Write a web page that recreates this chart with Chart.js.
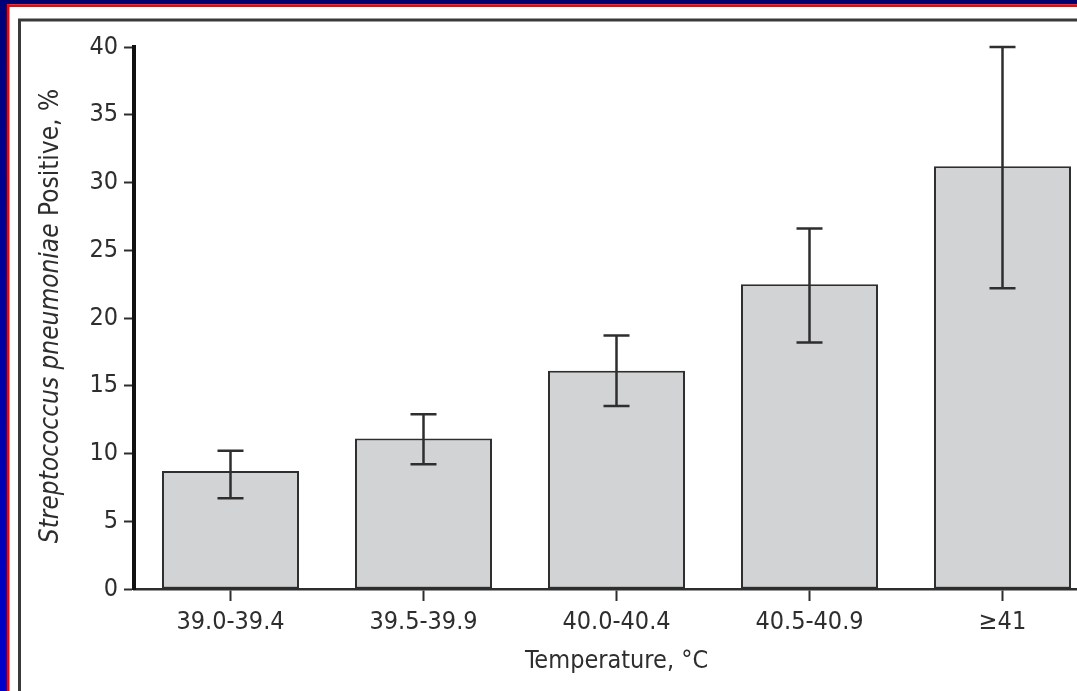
<!DOCTYPE html>
<html>
<head>
<meta charset="utf-8">
<script src="https://cdn.jsdelivr.net/npm/chart.js@4.4.1/dist/chart.umd.min.js"></script>
<style>
  html, body { margin: 0; padding: 0; width: 1077px; height: 691px; overflow: hidden; background: #fff; }
  canvas { display: block; }
</style>
</head>
<body>
<canvas id="c" width="1100" height="691" style="width:1100px;height:691px"></canvas>
<script>
const categories = ['39.0-39.4', '39.5-39.9', '40.0-40.4', '40.5-40.9', '\u226541'];
const percentPositive = [8.7, 11.1, 16.1, 22.5, 31.2];
const ciLower = [6.7, 9.2, 13.5, 18.2, 22.2];
const ciUpper = [10.2, 12.9, 18.7, 26.6, 40.0];
const yTicks = [0, 5, 10, 15, 20, 25, 30, 35, 40];

const FONT = "'Liberation Sans Narrow', 'Arial Narrow', 'DejaVu Sans Condensed', sans-serif";
const INK = '#2e2e2e';

const framePlugin = {
  id: 'frame',
  beforeDraw(chart) {
    const ctx = chart.ctx, W = chart.width, H = chart.height;
    ctx.save();
    ctx.fillStyle = '#ffffff';
    ctx.fillRect(0, 0, W, H);
    ctx.fillStyle = '#00006e';
    ctx.fillRect(0, 0, W, 4.5);
    const g = ctx.createLinearGradient(0, 0, 0, H);
    g.addColorStop(0, '#000078');
    g.addColorStop(1, '#0000cc');
    ctx.fillStyle = g;
    ctx.fillRect(0, 0, 7, H);
    ctx.fillStyle = '#ff0000';
    ctx.fillRect(7, 4.5, W, 2.5);
    ctx.fillRect(7, 4.5, 2.5, H);
    ctx.strokeStyle = '#3a3a3a';
    ctx.lineWidth = 3;
    ctx.beginPath();
    ctx.moveTo(19.5, H + 10);
    ctx.lineTo(19.5, 20);
    ctx.lineTo(W + 10, 20);
    ctx.stroke();
    ctx.restore();
  }
};

const errorBarPlugin = {
  id: 'errorBars',
  afterDatasetsDraw(chart) {
    const ctx = chart.ctx;
    const meta = chart.getDatasetMeta(0);
    const ys = chart.scales.y;
    ctx.save();
    ctx.strokeStyle = INK;
    ctx.lineCap = 'butt';
    meta.data.forEach((bar, i) => {
      const x = bar.x;
      const yl = ys.getPixelForValue(ciLower[i]);
      const yu = ys.getPixelForValue(ciUpper[i]);
      ctx.lineWidth = 2.5;
      ctx.beginPath();
      ctx.moveTo(x, yl);
      ctx.lineTo(x, yu);
      ctx.stroke();
      ctx.beginPath();
      ctx.moveTo(x - 13, yu);
      ctx.lineTo(x + 13, yu);
      ctx.moveTo(x - 13, yl);
      ctx.lineTo(x + 13, yl);
      ctx.stroke();
    });
    ctx.restore();
  }
};

const yTitlePlugin = {
  id: 'yTitle',
  afterDraw(chart) {
    const ctx = chart.ctx;
    const italicPart = 'Streptococcus pneumoniae';
    const normalPart = ' Positive, %';
    const size = 26;
    ctx.save();
    ctx.translate(51, 316);
    ctx.rotate(-Math.PI / 2);
    ctx.fillStyle = INK;
    ctx.textBaseline = 'middle';
    ctx.textAlign = 'left';
    ctx.font = 'italic ' + size + 'px ' + FONT;
    const w1 = ctx.measureText(italicPart).width;
    ctx.font = size + 'px ' + FONT;
    const w2 = ctx.measureText(normalPart).width;
    const start = -(w1 + w2) / 2;
    ctx.font = 'italic ' + size + 'px ' + FONT;
    ctx.fillText(italicPart, start, 0);
    ctx.font = size + 'px ' + FONT;
    ctx.fillText(normalPart, start + w1, 0);
    ctx.restore();
  }
};

new Chart(document.getElementById('c'), {
  type: 'bar',
  data: {
    labels: categories,
    datasets: [{
      data: percentPositive,
      backgroundColor: '#d2d3d5',
      borderColor: INK,
      borderWidth: 2,
      borderSkipped: false,
      barPercentage: 0.71,
      categoryPercentage: 1.0
    }]
  },
  options: {
    responsive: false,
    animation: false,
    devicePixelRatio: 1,
    layout: { padding: { top: 47, right: 1, left: 0, bottom: 0 } },
    plugins: {
      legend: { display: false },
      tooltip: { enabled: false },
      title: { display: false }
    },
    scales: {
      x: {
        offset: true,
        grid: { display: true, drawOnChartArea: false, offset: false, tickLength: 12, tickColor: INK, tickWidth: 2 },
        border: { display: true, color: INK, width: 2.5 },
        ticks: { color: INK, font: { family: FONT, size: 25 }, padding: 6, maxRotation: 0, autoSkip: false },
        title: { display: true, text: 'Temperature, \u00b0C', color: INK, font: { family: FONT, size: 25 }, padding: { top: 0, bottom: 15 } },
        afterFit(s) { s.height = 102; }
      },
      y: {
        min: 0,
        max: 40,
        afterBuildTicks(s) { s.ticks = yTicks.map(v => ({ value: v })); },
        grid: { display: true, drawOnChartArea: false, tickLength: 10, tickColor: INK, tickWidth: 2 },
        border: { display: true, color: '#111', width: 4 },
        ticks: { color: INK, font: { family: FONT, size: 25 }, padding: 6 },
        afterFit(s) { s.width = 134; }
      }
    }
  },
  plugins: [framePlugin, errorBarPlugin, yTitlePlugin]
});
</script>
</body>
</html>
